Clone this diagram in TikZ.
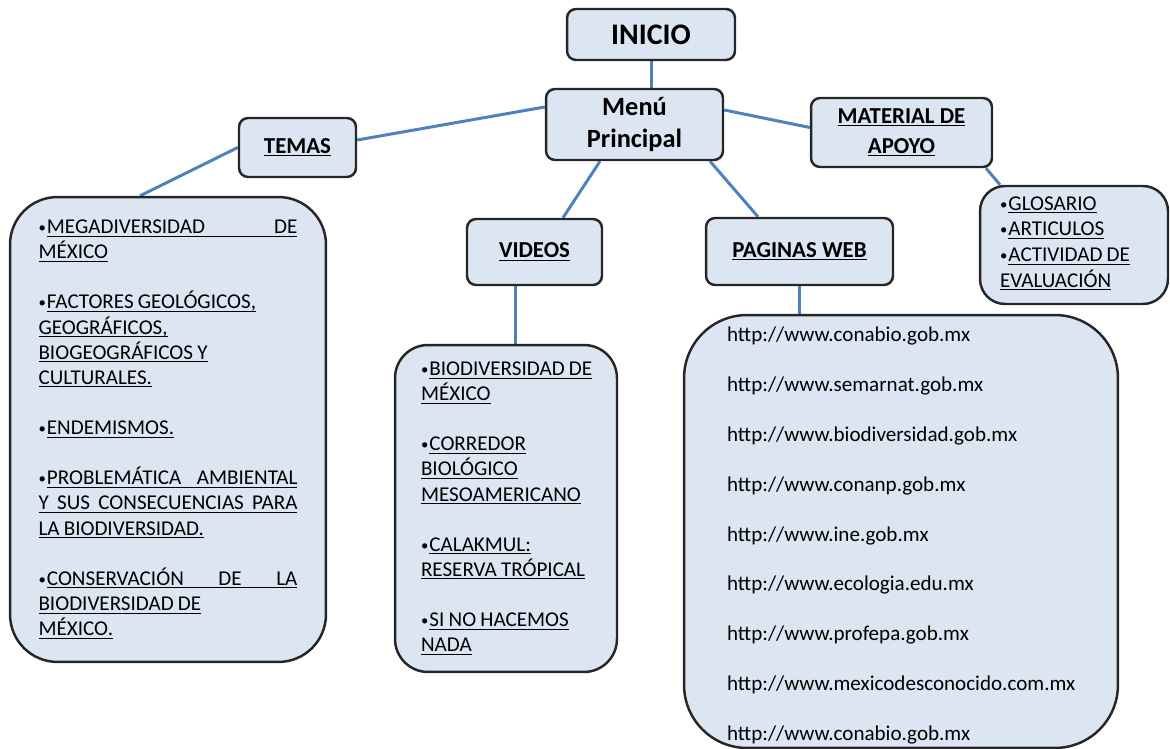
\documentclass[tikz,border=0pt]{standalone}
\usepackage{fontspec}
\setmainfont{Carlito}
\usetikzlibrary{backgrounds}
\definecolor{boxfill}{HTML}{DCE6F2}
\definecolor{linkblue}{HTML}{4F81BD}
\newcommand{\ulin}[1]{\underline{\raisebox{0pt}[\height][0pt]{#1}}}
\newcommand{\bul}{\makebox[0.4em][l]{\raisebox{0.12ex}{\scalebox{0.7}{•}}}}
\newcommand{\jline}[1]{\bul\ulin{\makebox[\dimexpr5.18cm-0.4em\relax][l]{#1}}}
\newcommand{\jlinenb}[1]{\ulin{\makebox[5.18cm][l]{#1}}}
\newcommand{\tsp}{\spaceskip=0.2em\relax}
\tikzset{
  headbox/.style={draw=black!85, line width=1.4pt, fill=boxfill, rounded corners=0.18cm,
    font=\bfseries\fontsize{13}{17}\selectfont, align=center, inner sep=0pt},
  listbox/.style={draw=black!85, line width=1.4pt, fill=boxfill, align=left, inner sep=0pt,
    font=\fontsize{12}{14.3}\selectfont},
  link/.style={draw=linkblue, line width=1.7pt}
}
\begin{document}
\begin{tikzpicture}[x=0.02cm,y=-0.02cm]
\useasboundingbox (0,0) rectangle (1170,749);
\node[headbox, minimum width=3.36cm, minimum height=1.02cm, font=\bfseries\fontsize{17}{20}\selectfont] (inicio) at (651,34.5) {INICIO};
\node[headbox, minimum width=3.54cm, minimum height=1.42cm, font=\bfseries\fontsize{15}{18.7}\selectfont] (menu) at (634.5,124.5) {Menú\\Principal};
\node[headbox, minimum width=2.34cm, minimum height=1.18cm] (temas) at (297.5,147.5) {\ulin{TEMAS}};
\node[headbox, minimum width=3.62cm, minimum height=1.38cm] (material) at (901.5,132.5) {\ulin{MATERIAL DE}\\\ulin{APOYO}};
\node[headbox, minimum width=2.7cm, minimum height=1.32cm] (videos) at (534.5,252) {\ulin{VIDEOS}};
\node[headbox, minimum width=3.74cm, minimum height=1.34cm] (paginas) at (799.5,251.5) {\ulin{PAGINAS WEB}};

\node[listbox, rounded corners=0.95cm, minimum width=6.32cm, minimum height=9.3cm, text width=5.18cm] (temaslist) at (168,429.5) {\tsp
\jline{MEGADIVERSIDAD\hfill DE}\\ \ulin{MÉXICO}\\[14.3pt]
\bul\ulin{FACTORES GEOLÓGICOS,}\\ \ulin{GEOGRÁFICOS,}\\ \ulin{BIOGEOGRÁFICOS Y}\\ \ulin{CULTURALES.}\\[14.3pt]
\bul\ulin{ENDEMISMOS.}\\[14.3pt]
\jline{PROBLEMÁTICA\hfill AMBIENTAL}\\ \jlinenb{Y\hfill SUS\hfill CONSECUENCIAS\hfill PARA}\\ \ulin{LA BIODIVERSIDAD.}\\[14.3pt]
\jline{CONSERVACIÓN\hfill DE\hfill LA}\\ \ulin{BIODIVERSIDAD DE}\\ \ulin{MÉXICO.}};
\node[listbox, rounded corners=0.66cm, minimum width=4.44cm, minimum height=6.54cm, text width=3.4cm] (videoslist) at (506,508.5) {\tsp
\bul\ulin{BIODIVERSIDAD DE}\\ \ulin{MÉXICO}\\[14.3pt]
\bul\ulin{CORREDOR}\\ \ulin{BIOLÓGICO}\\ \ulin{MESOAMERICANO}\\[14.3pt]
\bul\ulin{CALAKMUL:}\\ \ulin{RESERVA TRÓPICAL}\\[14.3pt]
\bul\ulin{SI NO HACEMOS}\\ \ulin{NADA}};
\node[listbox, rounded corners=1.26cm, minimum width=8.68cm, minimum height=8.66cm, text width=6.96cm, font=\fontsize{12}{28.35}\selectfont] (weblist) at (901,531.5) {%
\rule{0pt}{13pt}http://www.conabio.gob.mx\\ http://www.semarnat.gob.mx\\ http://www.biodiversidad.gob.mx\\
http://www.conanp.gob.mx\\ http://www.ine.gob.mx\\ http://www.ecologia.edu.mx\\
http://www.profepa.gob.mx\\ http://www.mexicodesconocido.com.mx\\ http://www.conabio.gob.mx};
\node[listbox, rounded corners=0.5cm, minimum width=3.76cm, minimum height=2.36cm, text width=2.96cm, font=\fontsize{12}{14.6}\selectfont] (materiallist) at (1074,245) {\tsp
\bul\ulin{GLOSARIO}\\ \bul\ulin{ARTICULOS}\\ \bul\ulin{ACTIVIDAD DE}\\ \ulin{EVALUACIÓN}\rule[-3.5pt]{0pt}{0pt}};

\begin{scope}[on background layer]
\draw[link] (inicio.south) -- (inicio.south |- menu.north);
\draw[link] ([yshift=0.35cm]menu.west) -- ([yshift=0.15cm]temas.east);
\draw[link] ([yshift=0.29cm]menu.east) -- ([yshift=0.1cm]material.west);
\draw[link] ([xshift=-0.69cm]menu.south) -- ([xshift=0.57cm]videos.north);
\draw[link] ([xshift=1.51cm]menu.south) -- ([xshift=-0.83cm]paginas.north);
\draw[link] (temas.west) -- ([xshift=-0.56cm]temaslist.north);
\draw[link] ([xshift=1.69cm]material.south) -- ([xshift=-1.48cm]materiallist.north);
\draw[link] ([xshift=-0.39cm]videos.south) -- ([xshift=-0.39cm]videos.south |- videoslist.north);
\draw[link] (paginas.south) -- (paginas.south |- weblist.north);
\end{scope}
\end{tikzpicture}
\end{document}
